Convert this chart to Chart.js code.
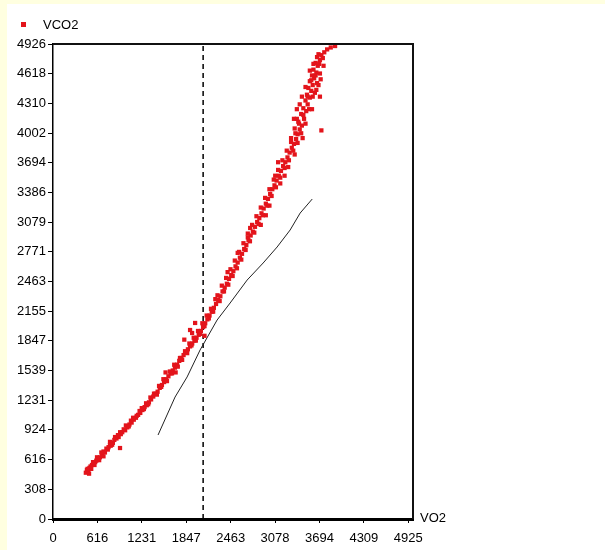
<!DOCTYPE html>
<html>
<head>
<meta charset="utf-8">
<script src="https://cdn.jsdelivr.net/npm/chart.js@4"></script>
<style>
  body { margin: 0; background: #ffffe0; }
  #wrap { position: absolute; left: 7px; top: 4px; width: 598px; height: 546px; background: #fff; }
</style>
</head>
<body>
<div id="wrap"><canvas id="graph" width="598" height="546"></canvas></div>
<script>
///// tick labels
let xTickLabels = [0, 616, 1231, 1847, 2463, 3078, 3694, 4309, 4925];
let yTickLabels = [0, 308, 616, 924, 1231, 1539, 1847, 2155, 2463, 2771, 3079, 3386, 3694, 4002, 4310, 4618, 4926];

///// VCO2 en fonction de VO2
let vo2 = [455, 470, 490, 505, 520, 540, 560, 585, 600, 620, 650, 680, 700, 720, 760, 800, 830, 790, 850, 880,
  910, 940, 960, 1000, 1030, 1060, 1090, 1120, 1150, 1180, 1210, 1240, 1270, 1300, 1330, 1360, 790, 929,
  1390, 1420, 1450, 1480, 1510, 1540, 1570, 1600, 1630, 1660, 1690, 1720, 1750, 1780, 1810, 1840, 1870, 1900,
  1930, 1960, 1990, 2020, 2050, 2080, 2110, 2140, 2170, 2200, 2230, 2260, 1820, 1900, 1970, 1928, 1560, 1700, 2100,
  2290, 2320, 2350, 2380, 2410, 2440, 2470, 2500, 2530, 2560, 2590, 2620, 2650, 2680, 2710, 2740, 2770, 2800,
  2830, 2860, 2890, 2920, 2950, 2980, 3010, 3040, 3070, 3100, 3130, 3160, 3190, 3220, 3250, 3280, 3310, 3340, 3370,
  2700, 2560, 2880, 3000, 3080, 3150, 3210, 2950, 3120, 3260, 3300, 3350, 2420, 2733,
  3390, 3420, 3450, 3400, 3480, 3440, 3510, 3470, 3530, 3500, 3560, 3520, 3580, 3540, 3600, 3560, 3620, 3590,
  3650, 3610, 3670, 3640, 3700, 3660, 3720, 3760, 3800, 3850, 3910, 3630, 3680, 3460, 3590, 3700, 3750, 3420,
  3380, 3350, 3720, 3650, 3700,
  480, 500, 530, 555, 575, 610, 640, 670, 700, 740, 770, 820, 860, 900, 930, 980, 1010, 1050, 1080, 1110,
  1160, 1200, 1230, 1260, 1290, 1320, 1350,
  1400, 1440, 1470, 1500, 1530, 1580, 1620, 1650, 1680, 1730, 1760, 1790, 1830, 1860, 1890, 1920, 1950, 1980,
  2010, 2040, 2070, 2100, 2130, 2160, 2190, 2220, 2250,
  2280, 2310, 2340, 2370, 2400, 2430, 2460, 2490, 2520, 2550, 2580, 2610, 2640, 2670, 2700, 2730, 2760, 2790,
  2820, 2850, 2880, 2910, 2940, 2970, 3000, 3030, 3060, 3090, 3120, 3150, 3180, 3210, 3240, 3270, 3300, 3330,
  3360, 3390,
  3410, 3440, 3470, 3500, 3530, 3550, 3580, 3600, 3640, 3660, 3690, 3710, 3740, 3680, 3610, 3560, 3500, 3450,
  3380, 3340];
let vco2 = [480, 510, 495, 530, 545, 560, 575, 590, 605, 625, 640, 660, 700, 690, 720, 760, 790, 800, 820, 835,
  850, 880, 900, 920, 950, 980, 1000, 1030, 1050, 1080, 1100, 1130, 1160, 1180, 1210, 1240, 767, 736,
  1270, 1300, 1320, 1360, 1390, 1420, 1450, 1480, 1510, 1540, 1570, 1600, 1640, 1670, 1700, 1730, 1760, 1790,
  1820, 1850, 1880, 1910, 1950, 1990, 2030, 2070, 2110, 2150, 2190, 2230, 1860, 1960, 2033, 1929, 1520, 1520, 1900,
  2270, 2310, 2360, 2400, 2440, 2490, 2530, 2570, 2620, 2660, 2710, 2750, 2800, 2840, 2890, 2940, 2980, 3030,
  3080, 3120, 3170, 3220, 3270, 3320, 3370, 3420, 3460, 3510, 3560, 3610, 3660, 3700, 3750, 3800, 3850, 3890, 3940,
  2960, 2760, 3050, 3250, 3560, 3480, 3560, 3150, 3700, 3650, 3950, 3780, 2560, 3018,
  3990, 4040, 4080, 4120, 4150, 4200, 4230, 4260, 4300, 4340, 4370, 4400, 4440, 4470, 4500, 4540, 4570, 4600,
  4630, 4660, 4700, 4730, 4760, 4790, 4810, 4840, 4870, 4890, 4905, 4420, 4500, 3950, 4250, 4620, 4700, 4300,
  4150, 4050, 4030, 4450, 4380,
  520, 470, 520, 590, 560, 640, 610, 690, 650, 730, 745, 770, 850, 870, 900, 930, 970, 960, 1020, 1050,
  1070, 1120, 1150, 1140, 1200, 1190, 1260,
  1300, 1290, 1380, 1370, 1450, 1430, 1530, 1510, 1600, 1580, 1670, 1650, 1740, 1720, 1820, 1800, 1880, 1850,
  1950, 1920, 2030, 2000, 2110, 2080, 2180, 2150, 2280,
  2320, 2260, 2420, 2360, 2500, 2430, 2590, 2520, 2680, 2600, 2770, 2690, 2860, 2790, 2920, 2880, 3050, 2970,
  3140, 3060, 3230, 3150, 3330, 3250, 3420, 3350, 3520, 3440, 3620, 3540, 3720, 3640, 3820, 3720, 3910, 3820,
  4000, 3900,
  4100, 4000, 4190, 4100, 4380, 4250, 4550, 4380, 4600, 4520, 4720, 4560, 4780, 4820, 4720, 4650, 4480, 4380,
  4250, 4150];

///// droite (ligne fine noire)
let lineX = [1456, 1692, 1859, 2039, 2275, 2455, 2691, 2913, 3107, 3287, 3426, 3593];
let lineY = [871, 1265, 1473, 1753, 2064, 2240, 2478, 2655, 2821, 2997, 3173, 3318];

///// seuil (ligne pointillée)
let seuilVO2 = 2081;

let points = vo2.map((v, i) => ({ x: v, y: vco2[i] }));
let droite = lineX.map((v, i) => ({ x: v, y: lineY[i] }));

let police = "'Liberation Sans', Arial, sans-serif";

///// cadre, légende et titre d'axe
let decor = {
  id: "decor",
  afterDraw(chart) {
    let ctx = chart.ctx;
    let a = chart.chartArea;
    ctx.save();
    ctx.strokeStyle = "#111";
    ctx.lineWidth = 2;
    ctx.beginPath();
    ctx.moveTo(a.left, a.top);
    ctx.lineTo(a.right, a.top);
    ctx.lineTo(a.right, a.bottom);
    ctx.stroke();
    ctx.font = "13px " + police;
    ctx.fillStyle = "#000";
    ctx.textBaseline = "middle";
    ctx.fillText("VO2", a.right + 7, a.bottom - 1);
    let ds = chart.data.datasets[0];
    ctx.fillStyle = ds.backgroundColor;
    ctx.fillRect(14, 18, 5, 5);
    ctx.fillStyle = "#000";
    ctx.fillText(ds.label, 36, 21);
    ctx.restore();
  }
};

let graph = document.getElementById("graph");
let chart = new Chart(graph, {
  type: "scatter",
  data: {
    datasets: [{
      label: "VCO2",
      data: points,
      backgroundColor: "#e3141b",
      borderColor: "#e3141b",
      pointStyle: "rect",
      pointRadius: 3,
      borderWidth: 0
    }, {
      label: "droite",
      type: "line",
      data: droite,
      borderColor: "#222",
      borderWidth: 1,
      pointRadius: 0,
      fill: false
    }, {
      label: "seuil",
      type: "line",
      data: [{ x: seuilVO2, y: 0 }, { x: seuilVO2, y: 4926 }],
      borderColor: "#000",
      borderWidth: 1.5,
      borderDash: [5, 4],
      pointRadius: 0,
      fill: false
    }]
  },
  options: {
    responsive: false,
    animation: false,
    layout: { padding: { top: 40, right: 192, left: 0, bottom: 0 } },
    plugins: { legend: { display: false }, tooltip: { enabled: false } },
    scales: {
      x: {
        type: "linear",
        min: 0,
        max: 4990,
        afterBuildTicks: s => { s.ticks = xTickLabels.map(v => ({ value: v })); },
        afterFit: s => { s.height = 31; },
        grid: { drawOnChartArea: false, color: "#000", tickLength: 4 },
        border: { color: "#000", width: 3 },
        ticks: {
          autoSkip: false, maxRotation: 0, padding: 8, color: "#000",
          font: { family: police, size: 13 },
          callback: v => String(v)
        }
      },
      y: {
        type: "linear",
        min: 0,
        max: 4926,
        afterBuildTicks: s => { s.ticks = yTickLabels.map(v => ({ value: v })); },
        afterFit: s => { s.width = 46; },
        grid: { drawOnChartArea: false, color: "#000", tickLength: 5 },
        border: { color: "#000", width: 1.5 },
        ticks: {
          autoSkip: false, padding: 2, color: "#000",
          font: { family: police, size: 13 },
          callback: v => String(v)
        }
      }
    }
  },
  plugins: [decor]
});
</script>
</body>
</html>
